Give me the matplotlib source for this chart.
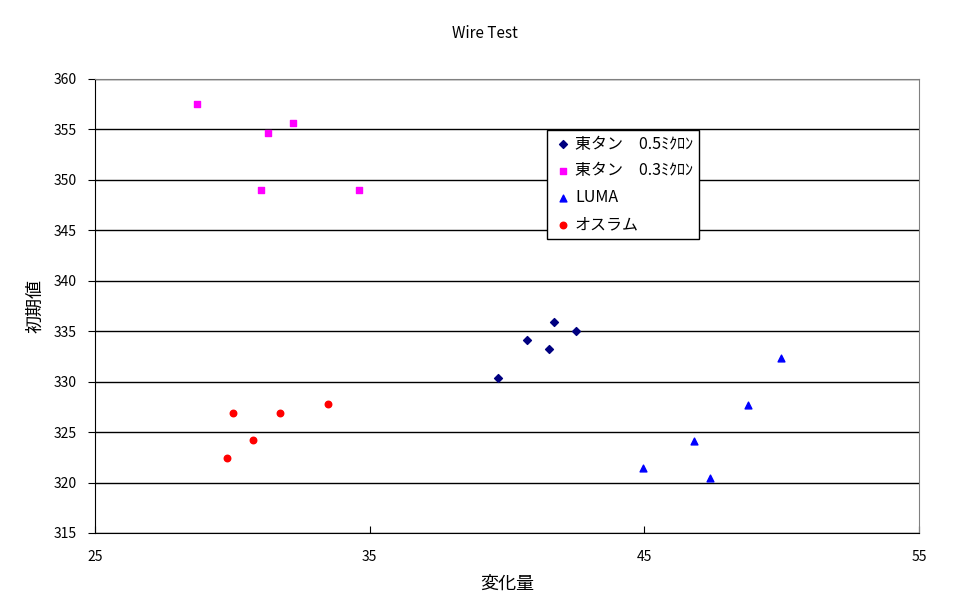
import matplotlib
matplotlib.use("Agg")
import matplotlib.pyplot as plt

plt.rcParams['font.family'] = ['Noto Sans CJK JP', 'DejaVu Sans']

# 東タン 0.5ミクロン
x_05 = [41.71, 42.51, 40.74, 41.54, 39.68]
y_05 = [335.9, 335.0, 334.1, 333.2, 330.4]

# 東タン 0.3ミクロン
x_03 = [28.71, 31.30, 32.21, 31.04, 34.61]
y_03 = [357.5, 354.6, 355.6, 349.0, 349.0]

# LUMA
x_luma = [49.98, 48.78, 46.82, 44.96, 47.40]
y_luma = [332.3, 327.7, 324.1, 321.4, 320.5]

# オスラム
x_osram = [30.01, 31.72, 33.50, 30.74, 29.80]
y_osram = [326.9, 326.9, 327.8, 324.2, 322.4]

x_ticks = [25, 35, 45, 55]
y_ticks = list(range(315, 361, 5))

fig = plt.figure(figsize=(9.7, 6.03), dpi=100)
ax = fig.add_axes([95/970, 70/603, 824/970, 454/603])

ax.scatter(x_05, y_05, marker='D', s=16, color='#000080', label='東タン　0.5ﾐｸﾛﾝ', zorder=3)
ax.scatter(x_03, y_03, marker='s', s=22, color='#FF00FF', label='東タン　0.3ﾐｸﾛﾝ', zorder=3)
ax.scatter(x_luma, y_luma, marker='^', s=24, color='#0000FF', label='LUMA', zorder=3)
ax.scatter(x_osram, y_osram, marker='o', s=22, color='#FF0000', label='オスラム', zorder=3)

ax.set_xlim(25, 55)
ax.set_ylim(315, 360)
ax.set_xticks(x_ticks)
ax.set_yticks(y_ticks)
ax.tick_params(axis='x', direction='in', length=5, pad=12, labelsize=10)
ax.tick_params(axis='y', direction='out', length=5, pad=8, labelsize=10)

ax.yaxis.grid(True, color='black', linewidth=1)
ax.set_axisbelow(True)
for side in ['top', 'right']:
    ax.spines[side].set_color('#808080')
for side in ['left', 'bottom']:
    ax.spines[side].set_color('black')

fig.text(485/970, 1 - 33/603, 'Wire Test', fontsize=11, ha='center', va='center')
ax.set_xlabel('変化量', fontsize=13, labelpad=8)
fig.text(35/970, 1 - 306/603, '初期値', fontsize=13, rotation=90, ha='center', va='center')

leg = ax.legend(loc='upper left', bbox_to_anchor=(452/824, 1 - 51/454), fontsize=11.5,
                frameon=True, fancybox=False, edgecolor='black', framealpha=1,
                borderaxespad=0, handletextpad=0.1, borderpad=0.35, labelspacing=0.62,
                handlelength=1.3, scatterpoints=1)
leg.get_frame().set_linewidth(1)

fig.savefig('out.png', dpi=100)
